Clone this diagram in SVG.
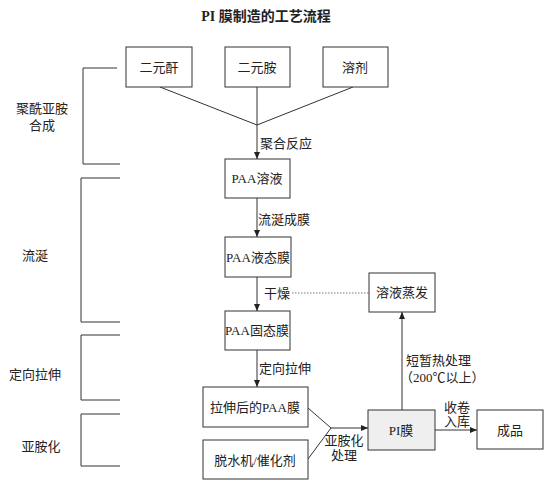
<svg xmlns="http://www.w3.org/2000/svg" width="550" height="485" viewBox="0 0 550 485">
<style>
text{font-family:"Liberation Serif","Noto Sans CJK SC",serif;fill:#222;}
.t{font-size:13px;text-anchor:middle;dominant-baseline:central;}
.l{font-size:13px;dominant-baseline:central;}
.title{font-size:14px;font-weight:bold;text-anchor:middle;dominant-baseline:central;}
.box{fill:#fff;stroke:#333;stroke-width:1;}
.c{fill:none;stroke:#333;stroke-width:1;}
.a{fill:none;stroke:#333;stroke-width:1;marker-end:url(#ah);}
.br{fill:none;stroke:#333;stroke-width:1;}
.dot{fill:none;stroke:#777;stroke-width:1;stroke-dasharray:1.5 1.5;}
</style>
<defs>
<marker id="ah" markerWidth="7" markerHeight="6" refX="7" refY="3" orient="auto" markerUnits="userSpaceOnUse">
<path d="M0,0 L7,3 L0,6 z" fill="#222"/>
</marker>
</defs>
<rect width="550" height="485" fill="#fff"/>
<text class="title" x="266" y="16">PI 膜制造的工艺流程</text>

<g id="stage-labels">
<text class="t" x="42" y="108">聚酰亚胺</text>
<text class="t" x="42" y="125">合成</text>
<text class="t" x="35" y="255">流涎</text>
<text class="t" x="35" y="374">定向拉伸</text>
<text class="t" x="41" y="446">亚胺化</text>
</g>

<g id="brackets">
<polyline class="br" points="117,68 83,68 83,164 120,164"/>
<polyline class="br" points="120,178 81,178 81,322 120,322"/>
<polyline class="br" points="120,335 81,335 81,400 120,400"/>
<polyline class="br" points="120,414 81,414 81,466 120,466"/>
</g>

<g id="connectors">
<line class="c" x1="160" y1="87" x2="257" y2="125"/>
<line class="c" x1="257" y1="87" x2="257" y2="125"/>
<line class="c" x1="353" y1="87" x2="257" y2="125"/>
<line class="a" x1="257" y1="125" x2="257" y2="159"/>
<line class="a" x1="257" y1="198" x2="257" y2="237"/>
<line class="a" x1="257" y1="277" x2="257" y2="311"/>
<line class="dot" x1="292" y1="293" x2="369" y2="293"/>
<line class="a" x1="257" y1="350" x2="257" y2="387"/>
<line class="c" x1="308" y1="408" x2="331" y2="428"/>
<line class="c" x1="308" y1="459" x2="331" y2="428"/>
<line class="a" x1="331" y1="428" x2="368" y2="428"/>
<line class="a" x1="402" y1="410" x2="402" y2="312"/>
<line class="a" x1="435" y1="430" x2="477" y2="430"/>
<text class="l" x="260" y="143">聚合反应</text>
<text class="l" x="258" y="219">流涎成膜</text>
<text class="l" x="264" y="293">干燥</text>
<text class="l" x="259" y="368">定向拉伸</text>
<text class="l" x="406" y="360">短暂热处理</text>
<text class="l" x="400" y="377">（200℃以上）</text>
<text class="t" x="457" y="407">收卷</text>
<text class="t" x="457" y="421">入库</text>
<text class="t" x="344" y="440">亚胺化</text>
<text class="t" x="344" y="455">处理</text>
</g>

<g id="n-dianhydride"><rect class="box" x="126" y="47" width="66" height="40"/><text class="t" x="159" y="67">二元酐</text></g>
<g id="n-diamine"><rect class="box" x="225" y="47" width="65" height="40"/><text class="t" x="257" y="67">二元胺</text></g>
<g id="n-solvent"><rect class="box" x="323" y="47" width="65" height="40"/><text class="t" x="355" y="67">溶剂</text></g>
<g id="n-paa-solution"><rect class="box" x="225" y="159" width="65" height="39"/><text class="t" x="257" y="178">PAA溶液</text></g>
<g id="n-paa-liquid"><rect class="box" x="225" y="237" width="66" height="40"/><text class="t" x="258" y="257">PAA液态膜</text></g>
<g id="n-paa-solid"><rect class="box" x="225" y="311" width="65" height="39"/><text class="t" x="257" y="330">PAA固态膜</text></g>
<g id="n-evaporation"><rect class="box" x="369" y="273" width="66" height="39"/><text class="t" x="402" y="292">溶液蒸发</text></g>
<g id="n-stretched"><rect class="box" x="203" y="387" width="105" height="40"/><text class="t" x="255" y="407">拉伸后的PAA膜</text></g>
<g id="n-dehydrator"><rect class="box" x="203" y="440" width="105" height="39"/><text class="t" x="255" y="460">脱水机/催化剂</text></g>
<g id="n-pi"><rect class="box" x="368" y="410" width="67" height="40" style="fill:#efefef"/><text class="t" x="401" y="430">PI膜</text></g>
<g id="n-product"><rect class="box" x="477" y="410" width="66" height="39"/><text class="t" x="510" y="430">成品</text></g>
</svg>
